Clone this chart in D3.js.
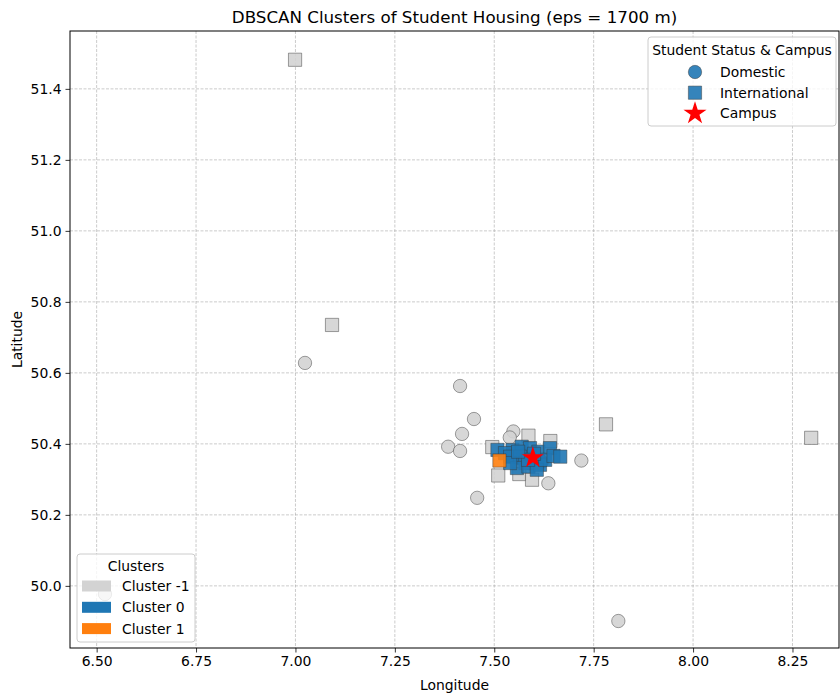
<!DOCTYPE html>
<html><head><meta charset="utf-8">
<script src="https://cdn.jsdelivr.net/npm/d3@7"></script>
<style>body{margin:0;background:#fff}svg text{font-family:"DejaVu Sans",sans-serif}</style>
</head><body><svg id="c" width="840" height="693"></svg>
<script>
// ---- data ----
const xTicks = [6.50, 6.75, 7.00, 7.25, 7.50, 7.75, 8.00, 8.25];
const yTicks = [50.0, 50.2, 50.4, 50.6, 50.8, 51.0, 51.2, 51.4];
const noiseDomLon = [7.024, 7.414, 7.449, 7.419, 7.384, 7.414, 7.457, 7.548, 7.539, 7.636, 7.719, 7.812, 6.521];
const noiseDomLat = [50.628, 50.563, 50.470, 50.428, 50.392, 50.380, 50.248, 50.435, 50.418, 50.289, 50.353, 49.901, 49.977];
const noiseIntLon = [6.999, 7.092, 7.495, 7.586, 7.641, 7.510, 7.563, 7.595, 7.781, 8.297];
const noiseIntLat = [51.482, 50.735, 50.391, 50.423, 50.408, 50.311, 50.315, 50.299, 50.455, 50.417];
const c0DomLon = [7.560, 7.590, 7.620, 7.575];
const c0DomLat = [50.360, 50.345, 50.350, 50.370];
const c0IntLon = [7.508, 7.546, 7.527, 7.569, 7.590, 7.611, 7.640, 7.540, 7.565, 7.578, 7.557, 7.586, 7.615, 7.607, 7.628, 7.540, 7.649, 7.666, 7.600, 7.585, 7.560];
const c0IntLat = [50.383, 50.383, 50.374, 50.392, 50.388, 50.378, 50.388, 50.364, 50.364, 50.346, 50.332, 50.336, 50.341, 50.327, 50.355, 50.346, 50.366, 50.364, 50.372, 50.355, 50.378];
const c1IntLon = [7.513];
const c1IntLat = [50.353];
const campus = [7.597, 50.361];
const clusterNames = ["Cluster -1", "Cluster 0", "Cluster 1"];
const clusterColors = ["#d3d3d3", "#1f77b4", "#ff7f0e"];

// ---- layout ----
const svg = d3.select("#c");
const L = 70, R = 839, T = 31, B = 648;
const FS = 13.9;
const x = d3.scaleLinear().domain([6.433, 8.367]).range([L, R]);
const y = d3.scaleLinear().domain([49.825, 51.563]).range([B, T]);

// grid
const g = svg.append("g");
g.selectAll(".gx").data(xTicks).enter().append("line")
  .attr("x1", d => x(d)).attr("x2", d => x(d)).attr("y1", T).attr("y2", B)
  .attr("stroke", "#a8a8a8").attr("stroke-width", 0.6).attr("stroke-dasharray", "3,1.5");
g.selectAll(".gy").data(yTicks).enter().append("line")
  .attr("y1", d => y(d)).attr("y2", d => y(d)).attr("x1", L).attr("x2", R)
  .attr("stroke", "#a8a8a8").attr("stroke-width", 0.6).attr("stroke-dasharray", "3,1.5");

// axes
const xAxis = d3.axisBottom(x).tickValues(xTicks).tickFormat(d3.format(".2f")).tickSize(4.5).tickPadding(4);
const yAxis = d3.axisLeft(y).tickValues(yTicks).tickFormat(d3.format(".1f")).tickSize(4.5).tickPadding(4);
const ax = svg.append("g").attr("transform", `translate(0,${B})`).call(xAxis);
const ay = svg.append("g").attr("transform", `translate(${L},0)`).call(yAxis);
[ax, ay].forEach(a => {
  a.select(".domain").remove();
  a.selectAll("text").attr("font-size", FS).attr("fill", "#000").style("font-family", "DejaVu Sans");
  a.selectAll("line").attr("stroke", "#000").attr("stroke-width", 0.8);
});

// points
svg.append("defs").append("clipPath").attr("id", "clp").append("rect")
  .attr("x", L).attr("y", T).attr("width", R - L).attr("height", B - T);
const pts = svg.append("g").attr("clip-path", "url(#clp)");
const circ = d3.symbol().type(d3.symbolCircle).size(140);
const sq = d3.symbol().type(d3.symbolSquare).size(175);
function draw(lons, lats, sym, color) {
  pts.selectAll(null).data(lons.map((v, i) => [v, lats[i]])).enter().append("path")
    .attr("d", sym).attr("transform", d => `translate(${x(d[0])},${y(d[1])})`)
    .attr("fill", color).attr("fill-opacity", 0.9)
    .attr("stroke", "#3a3a3a").attr("stroke-opacity", 0.8).attr("stroke-width", 0.6);
}
draw(noiseDomLon, noiseDomLat, circ, clusterColors[0]);
draw(noiseIntLon, noiseIntLat, sq, clusterColors[0]);
draw(c0DomLon, c0DomLat, circ, clusterColors[1]);
draw(c0IntLon, c0IntLat, sq, clusterColors[1]);
draw(c1IntLon, c1IntLat, sq, clusterColors[2]);
const star = d3.symbol().type(d3.symbolStar).size(150);
const starL = d3.symbol().type(d3.symbolStar).size(165);
pts.append("path").attr("d", star).attr("transform", `translate(${x(campus[0])},${y(campus[1])})`)
  .attr("fill", "red");

// frame
svg.append("rect").attr("x", L).attr("y", T).attr("width", R - L).attr("height", B - T)
  .attr("fill", "none").attr("stroke", "#000").attr("stroke-width", 1);

// titles
svg.append("text").attr("x", (L + R) / 2).attr("y", 23).attr("text-anchor", "middle")
  .attr("font-size", 16.7).text("DBSCAN Clusters of Student Housing (eps = 1700 m)");
svg.append("text").attr("x", (L + R) / 2).attr("y", 690).attr("text-anchor", "middle")
  .attr("font-size", FS).text("Longitude");
svg.append("text").attr("transform", `translate(22,${(T + B) / 2}) rotate(-90)`).attr("text-anchor", "middle")
  .attr("font-size", FS).text("Latitude");

// legend 1
const l1 = svg.append("g");
l1.append("rect").attr("x", 648).attr("y", 37).attr("width", 188).attr("height", 89).attr("rx", 3)
  .attr("fill", "#fff").attr("fill-opacity", 0.8).attr("stroke", "#ccc");
l1.append("text").attr("x", 742).attr("y", 55).attr("text-anchor", "middle").attr("font-size", FS)
  .text("Student Status & Campus");
const l1items = [["Domestic", circ, "#1f77b4"], ["International", sq, "#1f77b4"], ["Campus", starL, "red"]];
l1items.forEach((it, i) => {
  const yy = 72 + i * 20.7;
  l1.append("path").attr("d", it[1]).attr("transform", `translate(695,${yy})`)
    .attr("fill", it[2]).attr("fill-opacity", i < 2 ? 0.9 : 1)
    .attr("stroke", i < 2 ? "#3a3a3a" : "none").attr("stroke-width", 0.6).attr("stroke-opacity", 0.8);
  l1.append("text").attr("x", 720).attr("y", yy + 5).attr("font-size", FS).text(it[0]);
});

// legend 2
const l2 = svg.append("g");
l2.append("rect").attr("x", 77).attr("y", 554).attr("width", 118).attr("height", 88).attr("rx", 3)
  .attr("fill", "#fff").attr("fill-opacity", 0.8).attr("stroke", "#ccc");
l2.append("text").attr("x", 136).attr("y", 571).attr("text-anchor", "middle").attr("font-size", FS).text("Clusters");
clusterNames.forEach((n, i) => {
  const yy = 586 + i * 21.3;
  l2.append("rect").attr("x", 82).attr("y", yy - 5.5).attr("width", 29).attr("height", 11).attr("fill", clusterColors[i]);
  l2.append("text").attr("x", 122).attr("y", yy + 5).attr("font-size", FS).text(n);
});
</script></body></html>
